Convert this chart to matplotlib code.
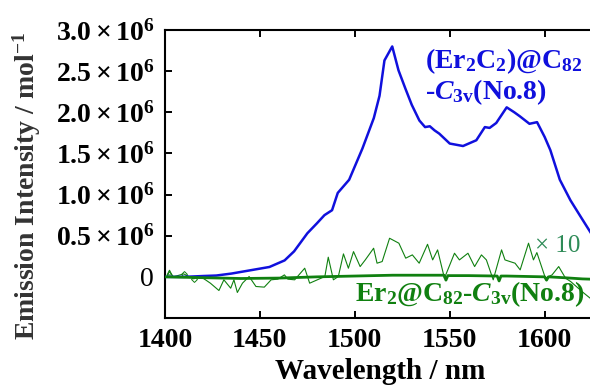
import matplotlib
matplotlib.use("Agg")
import matplotlib.pyplot as plt

plt.rcParams['font.family'] = ['Liberation Serif', 'DejaVu Serif']
plt.rcParams['mathtext.fontset'] = 'custom'
plt.rcParams['mathtext.rm'] = 'Liberation Serif:bold'
plt.rcParams['mathtext.bf'] = 'Liberation Serif:bold'
plt.rcParams['mathtext.it'] = 'Liberation Serif:bold:italic'

# Blue curve: (Er2C2)@C82-C3v(No.8), intensity in units of 1e6
blue_wl = [1400, 1410, 1420, 1427, 1435, 1445, 1455, 1463, 1468, 1475, 1480, 1484,
           1488, 1491, 1497, 1504, 1510, 1513, 1515.6, 1519.7, 1523, 1526.6, 1530,
           1534, 1537, 1539.5, 1542, 1544.5, 1550, 1557, 1564, 1568.5, 1571, 1574.5,
           1580, 1584, 1587, 1592, 1596, 1600, 1603, 1608, 1613.6, 1619, 1625, 1627]
blue_I = [0.0, 0.0, 0.01, 0.016, 0.04, 0.08, 0.12, 0.2, 0.31, 0.53, 0.65, 0.75,
          0.81, 1.02, 1.18, 1.56, 1.93, 2.2, 2.63, 2.80, 2.51, 2.29, 2.09,
          1.90, 1.82, 1.83, 1.78, 1.74, 1.62, 1.59, 1.66, 1.82, 1.81, 1.87,
          2.06, 2.0, 1.95, 1.86, 1.88, 1.70, 1.54, 1.18, 0.93, 0.73, 0.51, 0.46]

# Green thick curve: Er2@C82-C3v(No.8)
green_wl = [1400, 1420, 1440, 1460, 1480, 1500, 1520, 1540, 1547, 1548, 1549, 1560,
            1575, 1576, 1577, 1580, 1600, 1601, 1602, 1610, 1620, 1627]
green_I = [0.0, -0.01, -0.02, -0.015, 0.0, 0.01, 0.02, 0.02, 0.02, -0.04, 0.015, 0.015,
           0.01, -0.05, 0.01, 0.01, 0.0, -0.04, 0.0, -0.01, -0.025, -0.03]

# Green thin curve: x10 magnified
g10_wl = [1400.9, 1402.3, 1404.4, 1409.8, 1415.1, 1418.6, 1421.3, 1423.9, 1428.4,
          1431.0, 1434.6, 1436.3, 1438.1, 1440.8, 1444.3, 1447.9, 1452.3, 1455.9,
          1459.4, 1462.9, 1464.7, 1468.3, 1473.6, 1476.2, 1484.2, 1486.0, 1488.7,
          1491.3, 1494.0, 1496.6, 1499.3, 1502.8, 1505.5, 1509.9, 1511.7, 1514.4,
          1518.3, 1523.2, 1526.8, 1530.3, 1533.9, 1538.3, 1541.0, 1543.6, 1547.2,
          1552.5, 1555.1, 1559.6, 1563.1, 1566.7, 1569.3, 1572.9, 1577.3, 1579.1,
          1581.7, 1584.4, 1587.1, 1591.5, 1594.1, 1595.9, 1600.4, 1603.9, 1607.4,
          1611.0, 1613.7, 1620.7, 1626.1]
g10_I = [0.0, 0.065, 0.0, 0.036, -0.024, 0.004, -0.036, -0.077, -0.166,
         -0.036, -0.138, -0.036, -0.19, -0.077, 0.004, -0.117, -0.125, -0.036,
         -0.028, 0.024, -0.028, -0.036, 0.105, -0.077, 0.004, 0.239, -0.036,
         0.004, 0.279, 0.105, 0.307, 0.125, 0.206, 0.348, 0.166, 0.186,
         0.469, 0.409, 0.227, 0.267, 0.166, 0.396, 0.206, 0.328, -0.016,
         0.287, 0.206, 0.287, 0.125, 0.267, 0.206, -0.036, 0.328, 0.206,
         0.186, 0.166, 0.085, 0.409, 0.206, 0.295, -0.016, 0.024, 0.125,
         -0.016, -0.057, -0.198, -0.299]

yticks = [0, 0.5, 1.0, 1.5, 2.0, 2.5, 3.0]
ytick_labels = ['0', r'$0.5\times10^{6}$', r'$1.0\times10^{6}$', r'$1.5\times10^{6}$',
                r'$2.0\times10^{6}$', r'$2.5\times10^{6}$', r'$3.0\times10^{6}$']
xticks = [1400, 1450, 1500, 1550, 1600]

fig = plt.figure(figsize=(5.9, 3.87), dpi=100)
ax = fig.add_axes([0.2797, 0.1783, 0.7303, 0.7442])

blue = '#1010DD'
green = '#108010'
ax.plot(g10_wl, g10_I, color=green, lw=0.8, zorder=2)
ax.plot(g10_wl[:5], g10_I[:5], ls='none', marker='^', mfc='none', mec=green,
        ms=3.5, mew=0.7, markevery=[1], zorder=2)
ax.plot(g10_wl[:5], g10_I[:5], ls='none', marker='D', mfc='none', mec=green,
        ms=3, mew=0.7, markevery=[3, 4], zorder=2)
ax.plot(blue_wl, blue_I, color=blue, lw=1.8, zorder=3)
ax.plot(green_wl, green_I, color=green, lw=2.0, zorder=4)

ax.set_xlim(1400, 1627)
ax.set_ylim(-0.5, 3.0)
ax.set_xticks(xticks)
ax.set_xticklabels([str(t) for t in xticks], fontsize=20, fontweight='bold')
ax.set_yticks(yticks)
ax.set_yticklabels(ytick_labels, fontsize=20)
ax.tick_params(direction='in', length=5, width=1.4, top=True, right=False, pad=8)
ax.tick_params(axis='x', pad=7)
for s in ['left', 'bottom', 'top']:
    ax.spines[s].set_linewidth(1.5)
ax.spines['right'].set_visible(False)

ax.set_xlabel('Wavelength / nm', fontsize=21, fontweight='bold', labelpad=4)
fig.text(0.045, 0.52, 'Emission Intensity / mol$^{-1}$', rotation=90,
         fontsize=20, fontweight='bold', color='#333333', ha='center', va='center')

ax.text(1537, 2.62, '(Er$_2$C$_2$)@C$_{82}$', color=blue, fontsize=20,
        fontweight='bold', ha='left', va='center')
ax.text(1537, 2.25, '-$\\mathit{C}_{\\mathrm{3v}}$(No.8)', color=blue,
        fontsize=20, fontweight='bold', ha='left', va='center')
ax.text(1595, 0.38, '× 10', color='#2E8B57', fontsize=18, ha='left', va='center',
        fontweight='normal')
ax.text(1500, -0.21, 'Er$_2$@C$_{82}$-$\\mathit{C}_{\\mathrm{3v}}$(No.8)',
        color=green, fontsize=20, fontweight='bold', ha='left', va='center')

fig.savefig('out.png', dpi=100)
